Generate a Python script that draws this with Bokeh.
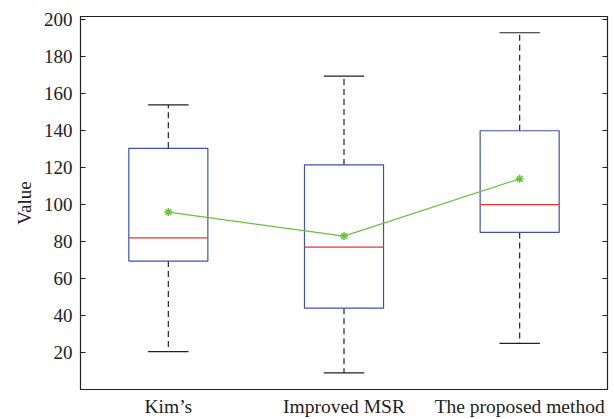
from bokeh.plotting import figure
from bokeh.models import Range1d, LinearAxis, FixedTicker
from bokeh.embed import file_html
from bokeh.resources import INLINE

categories = ["Kim\u2019s", "Improved MSR", "The proposed method"]
upper = [154, 169.5, 193]
q3 = [130.5, 121.5, 140]
median = [82, 77, 100]
q1 = [69.5, 44, 85]
lower = [20.5, 9, 25]
mean = [96, 83, 114]
yticks = [20, 40, 60, 80, 100, 120, 140, 160, 180, 200]

xs = [i + 1 for i in range(len(categories))]
box_half = 0.225
cap_half = 0.115

FONT = "Liberation Serif"
TXT = "#222222"

p = figure(width=614, height=419, output_backend="svg", toolbar_location=None,
           x_range=Range1d(0.5, 3.5), y_range=Range1d(0, 201.8),
           min_border_left=80, min_border_right=7, min_border_top=16, min_border_bottom=29)
p.xgrid.visible = False
p.ygrid.visible = False
p.outline_line_color = "#222222"
p.outline_line_width = 1.2
p.background_fill_color = "white"
p.border_fill_color = "white"

# whiskers
p.segment(x0=xs, y0=q3, x1=xs, y1=upper, line_color="#222222", line_dash="6 4", line_width=1.2)
p.segment(x0=xs, y0=q1, x1=xs, y1=lower, line_color="#222222", line_dash="6 4", line_width=1.2)
# caps
p.segment(x0=[x - cap_half for x in xs], y0=upper, x1=[x + cap_half for x in xs], y1=upper,
          line_color="#222222", line_width=1.2)
p.segment(x0=[x - cap_half for x in xs], y0=lower, x1=[x + cap_half for x in xs], y1=lower,
          line_color="#222222", line_width=1.2)
# boxes
p.quad(left=[x - box_half for x in xs], right=[x + box_half for x in xs], bottom=q1, top=q3,
       fill_color=None, line_color="#3f51b5", line_width=1.2)
# medians
p.segment(x0=[x - box_half for x in xs], y0=median, x1=[x + box_half for x in xs], y1=median,
          line_color="#ee3333", line_width=1.2)
# mean line
p.line(xs, mean, line_color="#6cbf3f", line_width=1.2)
p.scatter(xs, mean, marker="asterisk", size=8, line_color="#6cbf3f", line_width=1.5)

# axes styling
xa = p.xaxis[0]
xa.ticker = FixedTicker(ticks=xs)
xa.major_label_overrides = {x: c for x, c in zip(xs, categories)}
xa.major_tick_line_color = None
xa.major_tick_in = 0
xa.major_tick_out = 0
xa.minor_tick_line_color = None
xa.minor_tick_in = 0
xa.minor_tick_out = 0
xa.axis_line_color = "#222222"
xa.major_label_text_font = FONT
xa.major_label_text_font_size = "19.5px"
xa.major_label_text_color = TXT
xa.major_label_standoff = 6

ya = p.yaxis[0]
ya.ticker = FixedTicker(ticks=yticks)
ya.major_tick_in = 5
ya.major_tick_out = 0
ya.minor_tick_line_color = None
ya.axis_line_color = "#222222"
ya.major_tick_line_color = "#222222"
ya.major_label_text_font = FONT
ya.major_label_text_font_size = "19px"
ya.major_label_text_color = TXT
ya.major_label_standoff = 8
ya.axis_label = "Value"
ya.axis_label_text_font = FONT
ya.axis_label_text_font_size = "19px"
ya.axis_label_text_font_style = "normal"
ya.axis_label_text_color = TXT
ya.axis_label_standoff = 6

ra = LinearAxis(ticker=FixedTicker(ticks=yticks))
ra.major_tick_in = 5
ra.major_tick_out = 0
ra.minor_tick_line_color = None
ra.major_label_text_font_size = "0px"
ra.major_label_text_color = None
ra.axis_line_color = "#222222"
ra.major_tick_line_color = "#222222"
p.add_layout(ra, "right")

open("out.html", "w").write(file_html(p, INLINE))
